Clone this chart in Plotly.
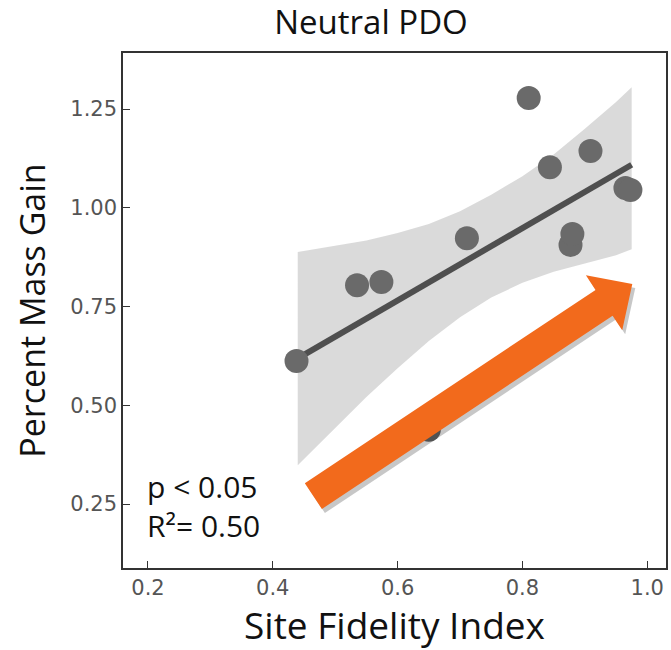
import math
import plotly.graph_objects as go

# ---- data ----
fidelity = [0.438, 0.535, 0.574, 0.650, 0.711, 0.810, 0.844, 0.877, 0.880, 0.909, 0.965, 0.973]
mass_gain = [0.612, 0.804, 0.812, 0.438, 0.923, 1.278, 1.103, 0.906, 0.934, 1.144, 1.050, 1.045]

fit_x = [0.438, 0.975]
fit_y = [0.617, 1.109]

band_x = [0.44, 0.50, 0.55, 0.60, 0.65, 0.70, 0.75, 0.80, 0.85, 0.90, 0.95, 0.975]
band_lo = [0.348, 0.443, 0.521, 0.594, 0.663, 0.723, 0.773, 0.810, 0.838, 0.859, 0.880, 0.895]
band_hi = [0.888, 0.903, 0.917, 0.936, 0.959, 0.991, 1.033, 1.080, 1.135, 1.200, 1.268, 1.305]

x_ticks = [0.2, 0.4, 0.6, 0.8, 1.0]
x_ticklabels = ["0.2", "0.4", "0.6", "0.8", "1.0"]
y_ticks = [0.25, 0.50, 0.75, 1.00, 1.25]
y_ticklabels = ["0.25", "0.50", "0.75", "1.00", "1.25"]

# ---- layout geometry ----
W, H = 671, 650
ML, MR, MT, MB = 123, 3, 53, 82
XR = [0.160, 1.030]
YR = [0.088, 1.392]
PW, PH = W - ML - MR, H - MT - MB

def to_px(xd, yd):
    return ((xd - XR[0]) / (XR[1] - XR[0]) * PW, (yd - YR[0]) / (YR[1] - YR[0]) * PH)

def from_px(px, py):
    return px / PW, py / PH

fig = go.Figure()

fig.add_trace(go.Scatter(x=band_x, y=band_lo, mode="lines", line=dict(width=0),
                         hoverinfo="skip", showlegend=False))
fig.add_trace(go.Scatter(x=band_x, y=band_hi, mode="lines", line=dict(width=0),
                         fill="tonexty", fillcolor="rgba(205,205,205,0.75)",
                         hoverinfo="skip", showlegend=False))
fig.add_trace(go.Scatter(x=fit_x, y=fit_y, mode="lines",
                         line=dict(color="#4f4f4f", width=6), showlegend=False))
fig.add_trace(go.Scatter(x=fidelity, y=mass_gain, mode="markers",
                         marker=dict(color="#6a6a6a", size=24, line=dict(width=0)),
                         showlegend=False))

# ---- orange arrow (annotation graphic) ----
arrow_tail = (0.465, 0.270)
arrow_tip = (0.976, 0.807)
shaft_w, head_w, head_len = 31, 66, 34
tx, ty = to_px(*arrow_tail)
hx, hy = to_px(*arrow_tip)
dx, dy = hx - tx, hy - ty
L = math.hypot(dx, dy)
ux, uy = dx / L, dy / L
nx, ny = -uy, ux
bx, by = hx - ux * head_len, hy - uy * head_len
pts_px = [
    (tx + nx * shaft_w / 2, ty + ny * shaft_w / 2),
    (bx + nx * shaft_w / 2, by + ny * shaft_w / 2),
    (bx + nx * head_w / 2, by + ny * head_w / 2),
    (hx, hy),
    (bx - nx * head_w / 2, by - ny * head_w / 2),
    (bx - nx * shaft_w / 2, by - ny * shaft_w / 2),
    (tx - nx * shaft_w / 2, ty - ny * shaft_w / 2),
]

def path_from(pts, ox=0, oy=0):
    s = ""
    for i, (px, py) in enumerate(pts):
        a, b = from_px(px + ox, py + oy)
        s += ("M" if i == 0 else "L") + f"{a:.5f},{b:.5f} "
    return s + "Z"

fig.add_shape(type="path", path=path_from(pts_px, 3, -4), xref="paper", yref="paper",
              fillcolor="rgba(0,0,0,0.22)", line=dict(width=0), layer="above")
fig.add_shape(type="path", path=path_from(pts_px), xref="paper", yref="paper",
              fillcolor="#F26A1C", line=dict(width=0), layer="above")

# ---- stats text ----
TXT_FAMILY = "'Open Sans', Lato, sans-serif"
fig.add_annotation(text="p < 0.05<br>R²= 0.50", xref="paper", yref="paper",
                   x=(145 - ML) / PW, y=(568 - 506) / PH, xanchor="left", yanchor="middle",
                   align="left", showarrow=False,
                   font=dict(family=TXT_FAMILY, size=30, color="#111111"))

axis_common = dict(showline=True, mirror=True, linecolor="#333333", linewidth=1.5,
                   ticks="inside", ticklen=7, tickwidth=1.3, tickcolor="#333333",
                   showgrid=False, zeroline=False,
                   tickfont=dict(family="DejaVu Sans, sans-serif", size=21, color="#555555"))

fig.update_layout(
    width=W, height=H,
    margin=dict(l=ML, r=MR, t=MT, b=MB),
    paper_bgcolor="white", plot_bgcolor="white",
    title=dict(text="Neutral PDO", x=371 / W, xanchor="center", xref="container",
               y=1 - 22 / H, yanchor="middle", yref="container",
               font=dict(family=TXT_FAMILY, size=33, color="#111111")),
    xaxis=dict(range=XR, tickvals=x_ticks, ticktext=x_ticklabels,
               title=dict(text="Site Fidelity Index", standoff=10,
                          font=dict(family=TXT_FAMILY, size=37, color="#111111")),
               **axis_common),
    yaxis=dict(range=YR, tickvals=y_ticks, ticktext=y_ticklabels,
               title=dict(text="Percent Mass Gain", standoff=14,
                          font=dict(family=TXT_FAMILY, size=34, color="#111111")),
               **axis_common),
)

fig.write_html("out.html")
